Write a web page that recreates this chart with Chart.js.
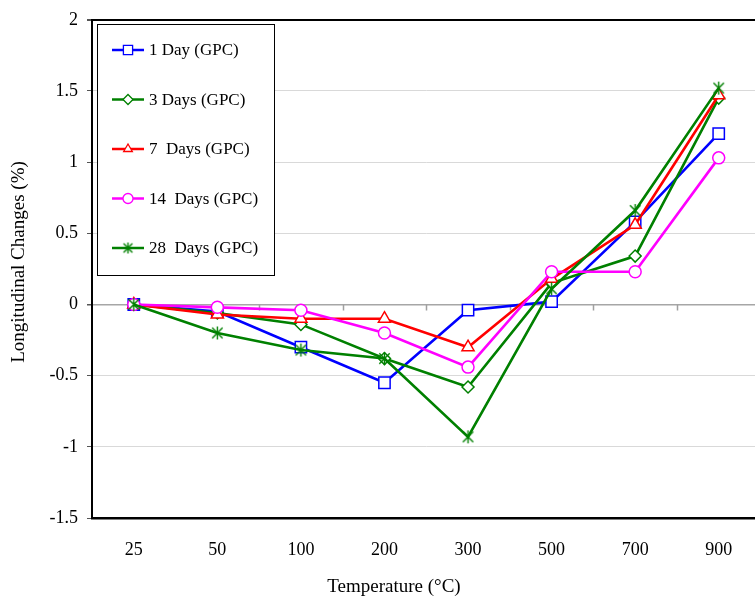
<!DOCTYPE html>
<html>
<head>
<meta charset="utf-8">
<script src="https://cdn.jsdelivr.net/npm/chart.js@4.4.1/dist/chart.umd.min.js"></script>
<style>
  html, body { margin: 0; padding: 0; background: #fff; overflow: hidden; }
  #wrap { width: 770px; height: 597px; }
</style>
</head>
<body>
<div id="wrap"><canvas id="chart" width="770" height="597"></canvas></div>
<script>
// === data ===
const temps = ["25", "50", "100", "200", "300", "500", "700", "900"];
const day1 = [0, -0.05, -0.30, -0.55, -0.04, 0.02, 0.58, 1.20];
const day3 = [0, -0.06, -0.14, -0.38, -0.58, 0.15, 0.34, 1.45];
const day7 = [0, -0.07, -0.10, -0.10, -0.30, 0.18, 0.56, 1.47];
const day14 = [0, -0.02, -0.04, -0.20, -0.44, 0.23, 0.23, 1.03];
const day28 = [0, -0.20, -0.32, -0.38, -0.93, 0.11, 0.66, 1.52];
const seriesNames = ["1 Day (GPC)", "3 Days (GPC)", "7  Days (GPC)", "14  Days (GPC)", "28  Days (GPC)"];
const yTicks = [-1.5, -1, -0.5, 0, 0.5, 1, 1.5, 2];

const FONT = "'Liberation Serif', 'Times New Roman', serif";

// star marker: X with a vertical bar (like Excel)
function makeStar(color, size) {
  const c = document.createElement("canvas");
  c.width = size; c.height = size;
  const g = c.getContext("2d");
  const h = size / 2, r = size / 2 - 1;
  g.strokeStyle = color;
  g.lineWidth = 1.4;
  g.beginPath();
  g.moveTo(h - r * 0.8, h - r * 0.8); g.lineTo(h + r * 0.8, h + r * 0.8);
  g.moveTo(h + r * 0.8, h - r * 0.8); g.lineTo(h - r * 0.8, h + r * 0.8);
  g.moveTo(h, h - r); g.lineTo(h, h + r);
  g.stroke();
  return c;
}
const starBig = makeStar("#008000", 15);
const starSmall = makeStar("#008000", 13);

function ds(label, data, color, style, radius, order) {
  return {
    label, data, order,
    borderColor: color,
    backgroundColor: "#ffffff",
    pointBackgroundColor: "#ffffff",
    pointBorderColor: color,
    pointStyle: style,
    pointRadius: radius,
    pointHoverRadius: radius,
    pointBorderWidth: 1.5,
    borderWidth: 2.6,
    tension: 0,
  };
}

// later series drawn on top, as in the original
const datasets = [
  ds(seriesNames[0], day1, "#0000ff", "rect", 8, 4),
  ds(seriesNames[1], day3, "#008000", "rectRot", 6, 3),
  ds(seriesNames[2], day7, "#ff0000", "triangle", 7, 2),
  ds(seriesNames[3], day14, "#ff00ff", "circle", 6, 1),
  ds(seriesNames[4], day28, "#008000", starBig, 7, 0),
];
const legendStyles = ["rect", "rectRot", "triangle", "circle", starSmall];

// === zero line ticks, legend box, axis titles ===
const decor = {
  id: "decor",
  beforeDatasetsDraw(chart) {
    const { ctx } = chart;
    const xs = chart.scales.x, ys = chart.scales.y;
    const y0 = ys.getPixelForValue(0);
    ctx.save();
    ctx.strokeStyle = "#a0a0a0";
    ctx.lineWidth = 1.5;
    ctx.beginPath();
    for (let i = 1; i < temps.length; i++) {
      const x = Math.round(xs.getPixelForValue(i - 0.5)) + 0.5;
      ctx.moveTo(x, y0);
      ctx.lineTo(x, y0 + 6);
    }
    ctx.stroke();
    ctx.restore();
  },
  afterDraw(chart) {
    const { ctx } = chart;
    ctx.save();
    // legend
    ctx.fillStyle = "#fff";
    ctx.fillRect(97, 24, 177, 251);
    ctx.strokeStyle = "#000";
    ctx.lineWidth = 1;
    ctx.strokeRect(97.5, 24.5, 177, 251);
    chart.data.datasets.forEach((d, i) => {
      const y = 50 + i * 49.5;
      ctx.strokeStyle = d.borderColor;
      ctx.lineWidth = 2.5;
      ctx.beginPath();
      ctx.moveTo(112, y); ctx.lineTo(144, y);
      ctx.stroke();
      ctx.fillStyle = "#fff";
      ctx.strokeStyle = d.borderColor;
      ctx.lineWidth = 1.3;
      Chart.helpers.drawPoint(ctx, { pointStyle: legendStyles[i], radius: i === 0 ? 6.5 : 5, rotation: 0, borderWidth: 1.3 }, 128, y);
      ctx.fillStyle = "#000";
      ctx.font = "17px " + FONT;
      ctx.textAlign = "left";
      ctx.textBaseline = "middle";
      ctx.fillText(d.label, 149, y + 1);
    });
    // axis titles
    ctx.fillStyle = "#000";
    ctx.font = "19px " + FONT;
    ctx.textAlign = "center";
    ctx.textBaseline = "middle";
    ctx.fillText("Temperature (°C)", 394, 587);
    ctx.translate(19, 262);
    ctx.rotate(-Math.PI / 2);
    ctx.fillText("Longitudinal Changes (%)", 0, 0);
    ctx.restore();
  },
};

new Chart(document.getElementById("chart"), {
  type: "line",
  data: { labels: temps, datasets },
  options: {
    responsive: false,
    animation: false,
    layout: { padding: { top: 17, right: 7, left: 0, bottom: 0 } },
    plugins: { legend: { display: false }, tooltip: { enabled: false } },
    scales: {
      x: {
        offset: true,
        grid: { display: false },
        border: { display: true, color: "#000", width: 2.5 },
        ticks: { color: "#000", font: { family: FONT, size: 18 }, padding: 13 },
        afterFit(s) { s.height = 79; },
      },
      y: {
        min: -1.5, max: 2,
        afterBuildTicks(s) { s.ticks = yTicks.map(v => ({ value: v })); },
        grid: {
          color: c => (c.tick.value === 0 ? "#a6a6a6" : c.tick.value === 2 ? "#000" : "#d9d9d9"),
          lineWidth: c => (c.tick.value === 0 ? 1.5 : c.tick.value === 2 ? 2 : 1),
          tickColor: "#555",
          tickLength: 5,
        },
        border: { display: true, color: "#000", width: 2 },
        ticks: { color: "#000", font: { family: FONT, size: 18 }, padding: 9, callback: v => String(v) },
        afterFit(s) { s.width = 92; },
      },
    },
  },
  plugins: [decor],
});
</script>
</body>
</html>
